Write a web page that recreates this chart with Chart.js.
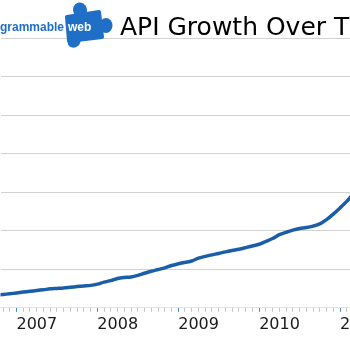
<!DOCTYPE html>
<html>
<head>
<meta charset="utf-8">
<script src="https://cdn.jsdelivr.net/npm/chart.js@4"></script>
<style>
  html, body { margin: 0; padding: 0; background: #ffffff; overflow: hidden; }
  #wrap { width: 350px; height: 339px; position: relative; }
</style>
</head>
<body>
<div id="wrap"><canvas id="c"></canvas></div>
<script>
// Months counted from January 2007 (0 = Jan 2007)
const monthIndex = [-3, -2, -1, 0, 1, 2, 3, 4, 5, 6, 7, 8, 9, 10, 11, 12, 13, 14, 15, 16, 17, 18, 19, 20, 21, 22, 23, 24, 25, 26, 27, 28, 29, 30, 31, 32, 33, 34, 35, 36, 37, 38, 39, 40, 41, 42, 43, 44, 45, 46, 47, 48, 49, 50];
// Number of APIs
const apiCount = [326, 346, 364, 385, 408, 428, 449, 469, 492, 503, 515, 533, 551, 567, 582, 615, 667, 705, 762, 787, 800, 841, 897, 949, 992, 1036, 1097, 1141, 1179, 1215, 1290, 1333, 1374, 1410, 1451, 1487, 1520, 1561, 1605, 1649, 1723, 1797, 1897, 1961, 2015, 2056, 2082, 2120, 2177, 2287, 2430, 2590, 2760, 2960];
const yearLabels = ['2007', '2008', '2009', '2010', '2011'];
const titleText = 'API Growth Over Time';
const logoText = 'programmable';
const logoBadge = 'web';

const points = monthIndex.map((m, i) => ({ x: m, y: apiCount[i] }));

const headerPlugin = {
  id: 'header',
  afterDraw(chart) {
    const ctx = chart.ctx;
    ctx.save();
    const blue = '#1f6fc6';
    ctx.fillStyle = blue;
    ctx.strokeStyle = blue;
    ctx.lineJoin = 'round';
    ctx.lineWidth = 4;
    ctx.beginPath();
    ctx.moveTo(67, 17);
    ctx.lineTo(99, 12);
    ctx.lineTo(102, 37);
    ctx.lineTo(69, 41);
    ctx.closePath();
    ctx.fill();
    ctx.stroke();
    ctx.beginPath(); ctx.ellipse(80, 10, 7, 7.5, -0.3, 0, Math.PI * 2); ctx.fill();
    ctx.beginPath(); ctx.ellipse(106, 25.5, 6.5, 7.5, 0, 0, Math.PI * 2); ctx.fill();
    ctx.beginPath(); ctx.ellipse(74, 42, 6.5, 5.5, -0.4, 0, Math.PI * 2); ctx.fill();
    ctx.font = 'bold 12px "Liberation Sans"';
    ctx.textBaseline = 'alphabetic';
    ctx.textAlign = 'right';
    ctx.fillStyle = blue;
    ctx.fillText(logoText, 64, 31);
    ctx.textAlign = 'left';
    ctx.fillStyle = '#ffffff';
    ctx.fillText(logoBadge, 68, 31);
    ctx.font = '25px "DejaVu Sans"';
    ctx.fillStyle = '#000000';
    ctx.fillText(titleText, 120, 35);
    ctx.restore();
  }
};

new Chart(document.getElementById('c'), {
  type: 'line',
  data: {
    datasets: [{
      data: points,
      borderColor: '#1b5ea8',
      borderWidth: 3.5,
      pointRadius: 0,
      fill: false,
      tension: 0.3
    }]
  },
  options: {
    responsive: true,
    maintainAspectRatio: false,
    animation: false,
    events: [],
    layout: { autoPadding: false, padding: { top: 38, left: 0, right: 0, bottom: 2 } },
    plugins: { legend: { display: false }, tooltip: { enabled: false }, title: { display: false } },
    scales: {
      x: {
        type: 'linear',
        min: -16 / 6.75,
        max: (350 - 16) / 6.75,
        afterBuildTicks: axis => {
          const t = [];
          for (let m = -2; m <= 49; m++) t.push({ value: m });
          axis.ticks = t;
        },
        ticks: {
          autoSkip: false,
          maxRotation: 0,
          align: 'start',
          padding: 3,
          color: '#1a1a1a',
          font: { family: '"DejaVu Sans"', size: 16 },
          callback: v => (v % 12 === 0 && v >= 0) ? yearLabels[v / 12] : ''
        },
        grid: {
          drawOnChartArea: false,
          drawTicks: true,
          tickLength: 4,
          tickWidth: 1,
          tickColor: ctx => (ctx.tick && ctx.tick.value % 12 === 0) ? '#3d86cc' : '#c4c4c4'
        },
        border: { display: true, color: '#e2e2e2' }
      },
      y: {
        min: 0,
        max: 7000,
        ticks: { display: false, stepSize: 1000 },
        grid: { color: '#d2d2d2', lineWidth: 1, drawTicks: false },
        border: { display: false }
      }
    }
  },
  plugins: [headerPlugin]
});
</script>
</body>
</html>
